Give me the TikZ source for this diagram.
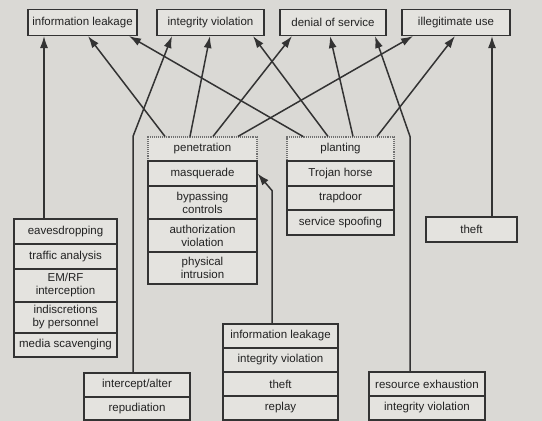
\documentclass[tikz,border=0pt]{standalone}
\usepackage{fontspec}
\setmainfont{Liberation Sans}
\usepackage{xcolor}
\usetikzlibrary{calc,arrows.meta}
\definecolor{pagec}{HTML}{DAD9D5}
\definecolor{boxc}{HTML}{E4E3DF}
\definecolor{linec}{HTML}{333333}
\definecolor{dotc}{HTML}{707070}
\definecolor{textc}{HTML}{222222}
\tikzset{
  ar/.style={-{Latex[length=12pt,width=8pt]},line width=1.5pt,linec},
  cell/.style={draw=linec,line width=1.1pt,fill=boxc,inner sep=1pt,align=center,text=textc,font=\fontsize{11.5}{13}\selectfont},
  topbox/.style={cell,minimum height=26pt},
  dotbox/.style={cell,draw=dotc,densely dotted}
}
\begin{document}
\begin{tikzpicture}[x=1pt,y=-1pt]
\fill[pagec] (0,0) rectangle (542,421);
\useasboundingbox (0,0) rectangle (542,421);
% threats
\node[topbox,minimum width=109pt] (til) at (82.5,22.5) {information leakage};
\node[topbox,minimum width=107pt] (tiv) at (210.5,22.5) {integrity violation};
\node[topbox,minimum width=106pt] (tds) at (333,22.5) {denial of service};
\node[topbox,minimum width=108pt] (tiu) at (456,22.5) {illegitimate use};
% left stack
\node[cell,minimum width=103pt,minimum height=25pt] (ed) at (65.5,231.5) {eavesdropping};
\node[cell,minimum width=103pt,minimum height=25pt] (ta) at (65.5,256.5) {traffic analysis};
\node[cell,minimum width=103pt,minimum height=33pt] (em) at (65.5,285.5) {EM/RF\\interception};
\node[cell,minimum width=103pt,minimum height=31pt] (ind) at (65.5,317.5) {indiscretions\\by personnel};
\node[cell,minimum width=103pt,minimum height=24pt] (ms) at (65.5,345) {media scavenging};
% penetration
\node[dotbox,minimum width=109pt,minimum height=24pt] (pen) at (202.5,149) {penetration};
\node[cell,minimum width=109pt,minimum height=25pt] (masq) at (202.5,173.5) {masquerade};
\node[cell,minimum width=109pt,minimum height=33pt] (byp) at (202.5,202.5) {bypassing\\controls};
\node[cell,minimum width=109pt,minimum height=33pt] (auth) at (202.5,235.5) {authorization\\violation};
\node[cell,minimum width=109pt,minimum height=32pt] (phys) at (202.5,268) {physical\\intrusion};
% planting
\node[dotbox,minimum width=107pt,minimum height=24pt] (plant) at (340.5,149) {planting};
\node[cell,minimum width=107pt,minimum height=25pt] (troj) at (340.5,173.5) {Trojan horse};
\node[cell,minimum width=107pt,minimum height=24pt] (trap) at (340.5,198) {trapdoor};
\node[cell,minimum width=107pt,minimum height=25pt] (spoof) at (340.5,222.5) {service spoofing};
% theft
\node[cell,minimum width=91pt,minimum height=25pt] (th) at (471.5,229.5) {theft};
% bottom row
\node[cell,minimum width=106pt,minimum height=24pt] (ia) at (137,385) {intercept/alter};
\node[cell,minimum width=106pt,minimum height=23pt] (rep) at (137,408.5) {repudiation};
\node[cell,minimum width=115pt,minimum height=24pt] (bil) at (280.5,336) {information leakage};
\node[cell,minimum width=115pt,minimum height=24pt] (biv) at (280.5,360) {integrity violation};
\node[cell,minimum width=115pt,minimum height=24pt] (bth) at (280.5,384) {theft};
\node[cell,minimum width=115pt,minimum height=24pt] (brp) at (280.5,408) {replay};
\node[cell,minimum width=116pt,minimum height=24pt] (rex) at (427,384) {resource exhaustion};
\node[cell,minimum width=116pt,minimum height=24pt] (riv) at (427,408) {integrity violation};
% arrows
\draw[ar] ([xshift=-21.5pt]ed.north) -- ([xshift=-38.5pt]til.south);
\draw[ar] ([xshift=-37.5pt]pen.north) -- ([xshift=5.5pt]til.south);
\draw[ar] ([xshift=-12.5pt]pen.north) -- ([xshift=-0.5pt]tiv.south);
\draw[ar] ([xshift=10.5pt]pen.north) -- ([xshift=-41pt]tds.south);
\draw[ar] ([xshift=35.5pt]pen.north) -- ([xshift=-43pt]tiu.south);
\draw[ar] ([xshift=-37.5pt]plant.north) -- ([xshift=46.5pt]til.south);
\draw[ar] ([xshift=-12.5pt]plant.north) -- ([xshift=42.5pt]tiv.south);
\draw[ar] ([xshift=12.5pt]plant.north) -- ([xshift=-3pt]tds.south);
\draw[ar] ([xshift=36.5pt]plant.north) -- ([xshift=-1pt]tiu.south);
\draw[ar] ([xshift=20.5pt]th.north) -- ([xshift=36pt]tiu.south);
\draw[ar] ([xshift=-4pt]ia.north) -- ([xshift=-4pt]ia.north |- pen.north) -- ([xshift=-38.5pt]tiv.south);
\draw[ar] ([xshift=-17pt]rex.north) -- ([xshift=-17pt]rex.north |- plant.north) -- ([xshift=42pt]tds.south);
\draw[ar] ([xshift=-8.5pt]bil.north) -- ([xshift=-8.5pt,yshift=-4pt]bil.north |- masq.south) -- (masq.east);
\end{tikzpicture}
\end{document}
